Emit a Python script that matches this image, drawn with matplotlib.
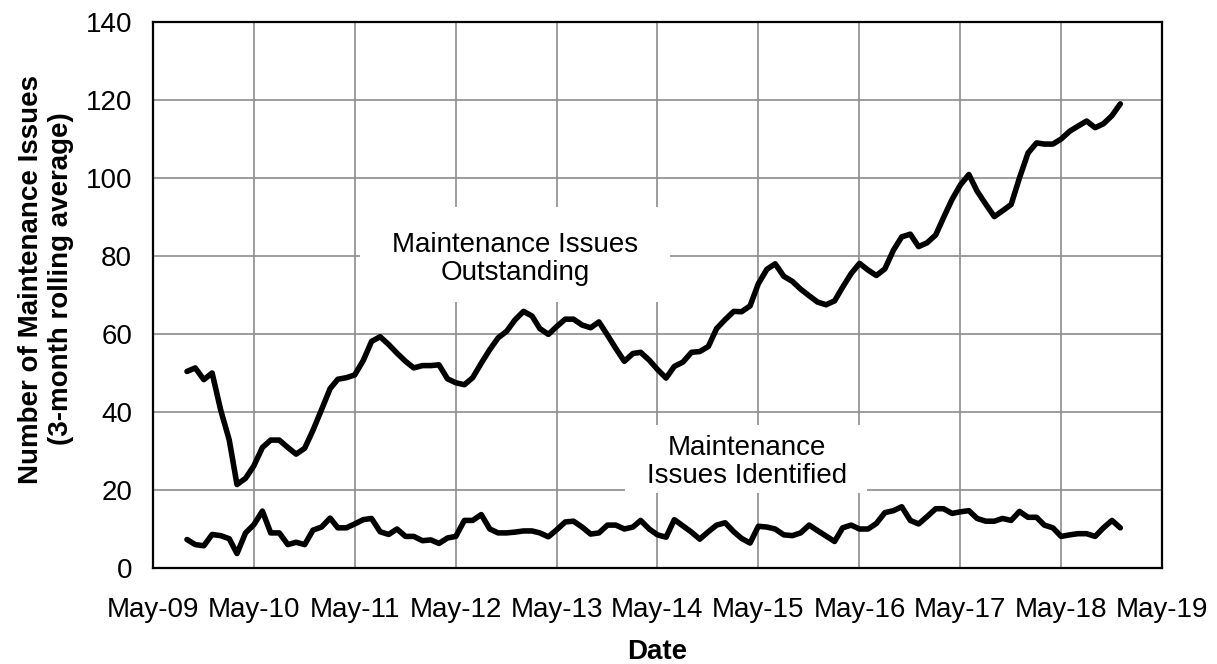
import matplotlib
matplotlib.use("Agg")
import matplotlib.pyplot as plt
import matplotlib.dates as mdates
from matplotlib.patches import Rectangle
import pandas as pd

plt.rcParams['font.family'] = ['Liberation Sans', 'DejaVu Sans']

# 3-month rolling averages, monthly from Sep-09 to Dec-18
first_month = '2009-09-01'
outstanding = [
    50.4, 51.3, 48.3, 50.0, 40.5, 32.8, 21.4, 23.0, 26.2, 30.9, 32.8, 32.8,
    30.9, 29.2, 30.7, 35.3, 40.6, 46.0, 48.4, 48.8, 49.5, 53.2, 58.1, 59.3,
    57.3, 55.1, 53.0, 51.3, 51.9, 51.9, 52.1, 48.5, 47.5, 47.0, 48.8, 52.5,
    56.0, 59.0, 60.7, 63.6, 65.8, 64.6, 61.4, 59.9, 61.9, 63.8, 63.8, 62.3,
    61.6, 63.1, 59.7, 56.3, 53.0, 55.0, 55.3, 53.3, 50.9, 48.7, 51.7, 52.8,
    55.3, 55.5, 56.8, 61.4, 63.7, 65.8, 65.7, 67.2, 72.9, 76.6, 78.0, 74.8,
    73.5, 71.5, 69.8, 68.2, 67.5, 68.5, 72.0, 75.5, 78.1, 76.4, 75.0, 76.7,
    81.5, 84.9, 85.6, 82.4, 83.4, 85.4, 89.8, 94.5, 98.2, 100.9, 96.6, 93.3,
    90.1, 91.6, 93.2, 100.0, 106.4, 109.0, 108.7, 108.7, 110.0, 112.0, 113.3, 114.6,
    112.9, 113.9, 116.0, 119.0,
]
identified = [
    7.3, 6.0, 5.7, 8.6, 8.3, 7.5, 3.7, 9.0, 11.1, 14.6, 9.0, 9.0,
    6.0, 6.6, 6.0, 9.7, 10.5, 12.8, 10.3, 10.3, 11.3, 12.4, 12.7, 9.3,
    8.6, 10.0, 8.1, 8.1, 7.0, 7.2, 6.3, 7.7, 8.1, 12.2, 12.2, 13.7,
    10.0, 9.0, 9.0, 9.2, 9.5, 9.5, 9.0, 8.0, 9.8, 11.8, 12.0, 10.5,
    8.7, 9.0, 11.0, 11.0, 10.0, 10.5, 12.2, 10.0, 8.5, 7.9, 12.4, 10.8,
    9.2, 7.4, 9.3, 11.0, 11.6, 9.3, 7.6, 6.4, 10.7, 10.5, 10.0, 8.5,
    8.3, 9.0, 11.0, 9.6, 8.2, 6.8, 10.3, 11.0, 10.0, 10.0, 11.4, 14.2,
    14.7, 15.7, 12.2, 11.3, 13.2, 15.2, 15.2, 14.0, 14.4, 14.7, 12.7, 12.0,
    12.0, 12.7, 12.2, 14.5, 13.0, 13.0, 11.0, 10.3, 8.1, 8.5, 8.8, 8.8,
    8.1, 10.3, 12.2, 10.3,
]
y_ticks = [0, 20, 40, 60, 80, 100, 120, 140]

dates = pd.date_range(first_month, periods=len(outstanding), freq='MS')

fig = plt.figure(figsize=(12.17, 6.64), dpi=100)
ax = fig.add_axes([153 / 1217, 1 - 568 / 664, 1009 / 1217, 546 / 664])

ax.set_axisbelow(True)
ax.grid(True, color='#8c8c8c', linewidth=1.2)

# white label boxes hide the grid behind the text
ax.add_patch(Rectangle((0.205, 0.487), 0.307, 0.174, transform=ax.transAxes,
                       facecolor='white', edgecolor='none', zorder=1))
ax.add_patch(Rectangle((0.468, 0.138), 0.24, 0.124, transform=ax.transAxes,
                       facecolor='white', edgecolor='none', zorder=1))

line_style = dict(color='black', linewidth=4, solid_joinstyle='round',
                  solid_capstyle='round', zorder=2)
ax.plot(dates, outstanding, **line_style)
ax.plot(dates, identified, **line_style)

ax.text(0.359, 0.566, 'Maintenance Issues\nOutstanding', transform=ax.transAxes,
        ha='center', va='center', fontsize=20, linespacing=1.1, zorder=3)
ax.text(0.589, 0.194, 'Maintenance\nIssues Identified', transform=ax.transAxes,
        ha='center', va='center', fontsize=20, linespacing=1.1, zorder=3)

ax.set_xlim(pd.Timestamp('2009-05-01'), pd.Timestamp('2019-05-01'))
ax.set_ylim(0, 140)
ax.set_yticks(y_ticks)
ax.xaxis.set_major_locator(mdates.MonthLocator(bymonth=5))
ax.xaxis.set_major_formatter(mdates.DateFormatter('%b-%y'))
ax.tick_params(axis='both', length=0, labelsize=20)
ax.tick_params(axis='x', pad=21)
ax.tick_params(axis='y', pad=15)

for spine in ax.spines.values():
    spine.set_linewidth(1.6)
    spine.set_color('black')

fig.text(46 / 1217, 1 - 279 / 664, 'Number of Maintenance Issues\n(3-month rolling average)',
         rotation=90, ha='center', va='center', fontsize=20, fontweight='bold',
         linespacing=1.2)
fig.text(657 / 1217, 1 - 652 / 664, 'Date', ha='center', va='center',
         fontsize=20, fontweight='bold')

fig.savefig('out.png', dpi=100)
